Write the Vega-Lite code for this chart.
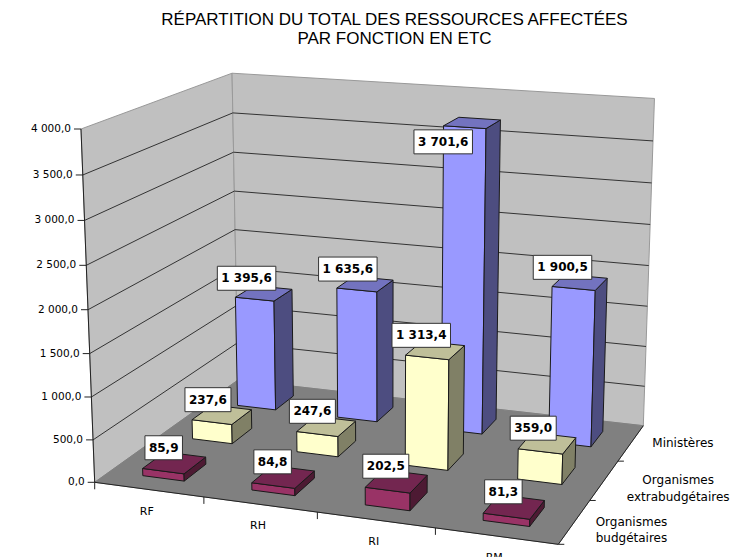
{
"$schema":"https://vega.github.io/schema/vega-lite/v6.json",
"width":731,"height":557,"padding":0,"autosize":{"type":"none"},
"background":"white",
"config":{"view":{"stroke":null}},
"title":{"text":["RÉPARTITION DU TOTAL DES RESSOURCES AFFECTÉES","PAR FONCTION EN ETC"],"orient":"top","anchor":"middle","offset":0,"dx":29,"dy":48,"font":"Liberation Sans","fontSize":17,"fontWeight":"normal","color":"#000000","lineHeight":19},
"datasets":{
"barres":[
{"fonction":"RF","organisme":"Ministères","valeur":1395.6},
{"fonction":"RH","organisme":"Ministères","valeur":1635.6},
{"fonction":"RI","organisme":"Ministères","valeur":3701.6},
{"fonction":"RM","organisme":"Ministères","valeur":1900.5},
{"fonction":"RF","organisme":"Organismes extrabudgétaires","valeur":237.6},
{"fonction":"RH","organisme":"Organismes extrabudgétaires","valeur":247.6},
{"fonction":"RI","organisme":"Organismes extrabudgétaires","valeur":1313.4},
{"fonction":"RM","organisme":"Organismes extrabudgétaires","valeur":359.0},
{"fonction":"RF","organisme":"Organismes budgétaires","valeur":85.9},
{"fonction":"RH","organisme":"Organismes budgétaires","valeur":84.8},
{"fonction":"RI","organisme":"Organismes budgétaires","valeur":202.5},
{"fonction":"RM","organisme":"Organismes budgétaires","valeur":81.3}
],
"graduations":[{"valeur":0},{"valeur":500},{"valeur":1000},{"valeur":1500},{"valeur":2000},{"valeur":2500},{"valeur":3000},{"valeur":3500},{"valeur":4000}],
"fonctions":[{"fonction":"RF","rang":0},{"fonction":"RH","rang":1},{"fonction":"RI","rang":2},{"fonction":"RM","rang":3}],
"organismes":[{"organisme":"Organismes budgétaires","rang":0},{"organisme":"Organismes extrabudgétaires","rang":1},{"organisme":"Ministères","rang":2}],
"murs":[
{"paroi":"gauche","ordre":0,"U":0,"V":0,"Z":0},{"paroi":"gauche","ordre":1,"U":0,"V":1,"Z":0},{"paroi":"gauche","ordre":2,"U":0,"V":1,"Z":1},{"paroi":"gauche","ordre":3,"U":0,"V":0,"Z":1},{"paroi":"gauche","ordre":4,"U":0,"V":0,"Z":0},
{"paroi":"fond","ordre":0,"U":0,"V":1,"Z":0},{"paroi":"fond","ordre":1,"U":1,"V":1,"Z":0},{"paroi":"fond","ordre":2,"U":1,"V":1,"Z":1},{"paroi":"fond","ordre":3,"U":0,"V":1,"Z":1},{"paroi":"fond","ordre":4,"U":0,"V":1,"Z":0}
],
"sol":[{"ordre":0,"U":0,"V":0,"Z":0},{"ordre":1,"U":1,"V":0,"Z":0},{"ordre":2,"U":1,"V":1,"Z":0},{"ordre":3,"U":0,"V":1,"Z":0},{"ordre":4,"U":0,"V":0,"Z":0}],
"aretes":[{"arete":"axe valeurs","ordre":0,"U":0,"V":0,"Z":0},{"arete":"axe valeurs","ordre":1,"U":0,"V":0,"Z":1},{"arete":"axe fonctions","ordre":0,"U":0,"V":0,"Z":0},{"arete":"axe fonctions","ordre":1,"U":1,"V":0,"Z":0},{"arete":"axe organismes","ordre":0,"U":1,"V":0,"Z":0},{"arete":"axe organismes","ordre":1,"U":1,"V":1,"Z":0}]
},
"layer":[
{"data":{"name":"murs"},
 "transform":[
  {"calculate":"1-0.07588*datum.U+0.15976*datum.V-0.045*datum.Z","as":"w"},
  {"calculate":"(421.24*datum.U+181.32*datum.V-17.35*datum.Z+94.7)/datum.w","as":"X"},
  {"calculate":"(20.7*datum.U-41.59*datum.V-359.1*datum.Z+482.3)/datum.w","as":"Y"}],
 "mark":{"type":"line","fill":"#C0C0C0","stroke":"#999999","strokeWidth":1},
 "encoding":{"x":{"field":"X","type":"quantitative","scale":{"domain":[0,731],"nice":false,"zero":false},"axis":null},
  "y":{"field":"Y","type":"quantitative","scale":{"domain":[557,0],"nice":false,"zero":false},"axis":null},
  "detail":{"field":"paroi"},"order":{"field":"ordre","type":"quantitative"}}},
{"data":{"name":"sol"},
 "transform":[
  {"calculate":"1-0.07588*datum.U+0.15976*datum.V-0.045*datum.Z","as":"w"},
  {"calculate":"(421.24*datum.U+181.32*datum.V-17.35*datum.Z+94.7)/datum.w","as":"X"},
  {"calculate":"(20.7*datum.U-41.59*datum.V-359.1*datum.Z+482.3)/datum.w","as":"Y"}],
 "mark":{"type":"line","fill":"#808080","stroke":"#808080","strokeWidth":1},
 "encoding":{"x":{"field":"X","type":"quantitative"},"y":{"field":"Y","type":"quantitative"},"order":{"field":"ordre","type":"quantitative"}}},
{"data":{"name":"graduations"},
 "transform":[
  {"filter":"datum.valeur>0 && datum.valeur<4000"},
  {"calculate":"[[0,0,0],[0,1,1],[1,1,2]]","as":"c"},{"flatten":["c"]},
  {"calculate":"datum.c[0]","as":"U"},{"calculate":"datum.c[1]","as":"V"},{"calculate":"datum.c[2]","as":"ordre"},{"calculate":"datum.valeur/4000","as":"Z"},
  {"calculate":"1-0.07588*datum.U+0.15976*datum.V-0.045*datum.Z","as":"w"},
  {"calculate":"(421.24*datum.U+181.32*datum.V-17.35*datum.Z+94.7)/datum.w","as":"X"},
  {"calculate":"(20.7*datum.U-41.59*datum.V-359.1*datum.Z+482.3)/datum.w","as":"Y"}],
 "mark":{"type":"line","stroke":"#333333","strokeWidth":1},
 "encoding":{"x":{"field":"X","type":"quantitative"},"y":{"field":"Y","type":"quantitative"},"detail":{"field":"valeur"},"order":{"field":"ordre","type":"quantitative"}}},
{"data":{"name":"aretes"},
 "transform":[
  {"calculate":"1-0.07588*datum.U+0.15976*datum.V-0.045*datum.Z","as":"w"},
  {"calculate":"(421.24*datum.U+181.32*datum.V-17.35*datum.Z+94.7)/datum.w","as":"X"},
  {"calculate":"(20.7*datum.U-41.59*datum.V-359.1*datum.Z+482.3)/datum.w","as":"Y"}],
 "mark":{"type":"line","stroke":"#222222","strokeWidth":1},
 "encoding":{"x":{"field":"X","type":"quantitative"},"y":{"field":"Y","type":"quantitative"},"detail":{"field":"arete"},"order":{"field":"ordre","type":"quantitative"}}},
{"data":{"name":"graduations"},
 "transform":[
  {"calculate":"datum.valeur/4000","as":"Z"},
  {"calculate":"1-0.045*datum.Z","as":"w"},
  {"calculate":"(-17.35*datum.Z+94.7)/datum.w","as":"X"},
  {"calculate":"datum.X-7","as":"X2"},
  {"calculate":"(-359.1*datum.Z+482.3)/datum.w","as":"Y"}],
 "mark":{"type":"rule","stroke":"#222222","strokeWidth":1},
 "encoding":{"x":{"field":"X","type":"quantitative"},"x2":{"field":"X2"},"y":{"field":"Y","type":"quantitative"}}},
{"data":{"name":"graduations"},
 "transform":[
  {"calculate":"datum.valeur/4000","as":"Z"},
  {"calculate":"1-0.045*datum.Z","as":"w"},
  {"calculate":"(-17.35*datum.Z+94.7)/datum.w","as":"X"},
  {"calculate":"(-359.1*datum.Z+482.3)/datum.w","as":"Y"},
  {"calculate":"replace(replace(format(datum.valeur,',.1f'),',',' '),'.',',')","as":"texte"}],
 "mark":{"type":"text","align":"right","baseline":"middle","dx":-10,"font":"DejaVu Sans","fontSize":10.5,"fill":"#000000"},
 "encoding":{"x":{"field":"X","type":"quantitative"},"y":{"field":"Y","type":"quantitative"},"text":{"field":"texte"}}},
{"data":{"name":"fonctions"},
 "transform":[
  {"calculate":"datum.rang/4","as":"U"},
  {"calculate":"1-0.07588*datum.U","as":"w"},
  {"calculate":"(421.24*datum.U+94.7)/datum.w","as":"X"},
  {"calculate":"(20.7*datum.U+482.3)/datum.w","as":"Y"},
  {"calculate":"datum.Y+7","as":"Y2"}],
 "mark":{"type":"rule","stroke":"#222222","strokeWidth":1},
 "encoding":{"x":{"field":"X","type":"quantitative"},"y":{"field":"Y","type":"quantitative"},"y2":{"field":"Y2"}}},
{"data":{"name":"organismes"},
 "transform":[
  {"calculate":"datum.rang/3","as":"V"},
  {"calculate":"1-0.07588+0.15976*datum.V","as":"w"},
  {"calculate":"(421.24+181.32*datum.V+94.7)/datum.w","as":"X"},
  {"calculate":"datum.X+6","as":"X2"},
  {"calculate":"(20.7-41.59*datum.V+482.3)/datum.w","as":"Y"}],
 "mark":{"type":"rule","stroke":"#222222","strokeWidth":1},
 "encoding":{"x":{"field":"X","type":"quantitative"},"x2":{"field":"X2"},"y":{"field":"Y","type":"quantitative"}}},
{"data":{"name":"fonctions"},
 "transform":[
  {"calculate":"(datum.rang+0.5)/4","as":"U"},
  {"calculate":"1-0.07588*datum.U","as":"w"},
  {"calculate":"(421.24*datum.U+94.7)/datum.w","as":"X"},
  {"calculate":"(20.7*datum.U+482.3)/datum.w","as":"Y"}],
 "mark":{"type":"text","align":"center","baseline":"middle","dx":-2,"dy":22,"font":"DejaVu Sans","fontSize":11,"fill":"#000000"},
 "encoding":{"x":{"field":"X","type":"quantitative"},"y":{"field":"Y","type":"quantitative"},"text":{"field":"fonction"}}},
{"data":{"name":"organismes"},
 "transform":[
  {"calculate":"(datum.rang+0.5)/3","as":"V"},
  {"calculate":"1-0.07588+0.15976*datum.V","as":"w"},
  {"calculate":"(421.24+181.32*datum.V+94.7)/datum.w+22+[35,52,30][datum.rang]","as":"X"},
  {"calculate":"(20.7-41.59*datum.V+482.3)/datum.w","as":"Y"}],
 "mark":{"type":"text","align":"center","baseline":"middle","lineBreak":" ","lineHeight":16.5,"font":"DejaVu Sans","fontSize":12,"fill":"#000000"},
 "encoding":{"x":{"field":"X","type":"quantitative"},"y":{"field":"Y","type":"quantitative"},"text":{"field":"organisme"}}},
{"data":{"name":"barres"},
 "transform":[
  {"calculate":"indexof(['RF','RH','RI','RM'],datum.fonction)","as":"i"},
  {"calculate":"indexof(['Organismes budgétaires','Organismes extrabudgétaires','Ministères'],datum.organisme)","as":"j"},
  {"calculate":"[['avant',0,-1,-1,0],['avant',1,1,-1,0],['avant',2,1,-1,1],['avant',3,-1,-1,1],['avant',4,-1,-1,0],['cote',0,1,-1,0],['cote',1,1,1,0],['cote',2,1,1,1],['cote',3,1,-1,1],['cote',4,1,-1,0],['dessus',0,-1,-1,1],['dessus',1,1,-1,1],['dessus',2,1,1,1],['dessus',3,-1,1,1],['dessus',4,-1,-1,1]]","as":"c"},
  {"flatten":["c"]},
  {"calculate":"datum.fonction+'|'+datum.organisme+'|'+datum.c[0]","as":"poly"},
  {"calculate":"datum.organisme+'|'+datum.c[0]","as":"teinte"},
  {"calculate":"datum.c[1]","as":"ordre"},
  {"calculate":"(datum.i+0.5)/4+0.048*datum.c[2]","as":"U"},
  {"calculate":"(datum.j+0.5)/3+0.073*datum.c[3]","as":"V"},
  {"calculate":"datum.c[4]*datum.valeur/4000","as":"Z"},
  {"calculate":"1-0.07588*datum.U+0.15976*datum.V-0.045*datum.Z","as":"w"},
  {"calculate":"(421.24*datum.U+181.32*datum.V-17.35*datum.Z+94.7)/datum.w","as":"X"},
  {"calculate":"(20.7*datum.U-41.59*datum.V-359.1*datum.Z+482.3)/datum.w","as":"Y"}],
 "mark":{"type":"line","stroke":"#1a1a1a","strokeWidth":1},
 "encoding":{"x":{"field":"X","type":"quantitative"},"y":{"field":"Y","type":"quantitative"},"detail":{"field":"poly"},"order":{"field":"ordre","type":"quantitative"},
  "fill":{"field":"teinte","type":"nominal","legend":null,"scale":{
   "domain":["Ministères|avant","Ministères|cote","Ministères|dessus","Organismes extrabudgétaires|avant","Organismes extrabudgétaires|cote","Organismes extrabudgétaires|dessus","Organismes budgétaires|avant","Organismes budgétaires|cote","Organismes budgétaires|dessus"],
   "range":["#9999FF","#4D4D80","#7373BF","#FFFFCC","#808066","#BFBF99","#993366","#4D1A33","#732650"]}}}},
{"data":{"name":"barres"},
 "transform":[
  {"calculate":"indexof(['RF','RH','RI','RM'],datum.fonction)","as":"i"},
  {"calculate":"indexof(['Organismes budgétaires','Organismes extrabudgétaires','Ministères'],datum.organisme)","as":"j"},
  {"calculate":"(datum.i+0.5)/4","as":"U"},{"calculate":"(datum.j+0.5)/3","as":"V"},{"calculate":"datum.valeur/4000","as":"Z"},
  {"calculate":"1-0.07588*datum.U+0.15976*datum.V-0.045*datum.Z","as":"w"},
  {"calculate":"(421.24*datum.U+181.32*datum.V-17.35*datum.Z+94.7)/datum.w-(datum.Z>0.75?29:9+10*datum.V)","as":"X"},
  {"calculate":"(20.7*datum.U-41.59*datum.V-359.1*datum.Z+482.3)/datum.w+(datum.Z>0.75?19:-15)","as":"Y"},
  {"calculate":"replace(replace(format(datum.valeur,',.1f'),',',' '),'.',',')","as":"texte"},
  {"calculate":"(length(datum.texte)==7?58.5:length(datum.texte)==5?46:37.5)/2","as":"demi"},
  {"calculate":"datum.X-datum.demi","as":"X1"},{"calculate":"datum.X+datum.demi","as":"X2"},
  {"calculate":"datum.Y-12","as":"Y1"},{"calculate":"datum.Y+12","as":"Y2"}],
 "layer":[
  {"mark":{"type":"rect","fill":"#FFFFFF","stroke":"#333333","strokeWidth":1},
   "encoding":{"x":{"field":"X1","type":"quantitative"},"x2":{"field":"X2"},"y":{"field":"Y1","type":"quantitative"},"y2":{"field":"Y2"}}},
  {"mark":{"type":"text","align":"center","baseline":"middle","font":"DejaVu Sans","fontSize":12,"fontWeight":"bold","fill":"#000000"},
   "encoding":{"x":{"field":"X","type":"quantitative"},"y":{"field":"Y","type":"quantitative"},"text":{"field":"texte"}}}
 ]}
]
}
